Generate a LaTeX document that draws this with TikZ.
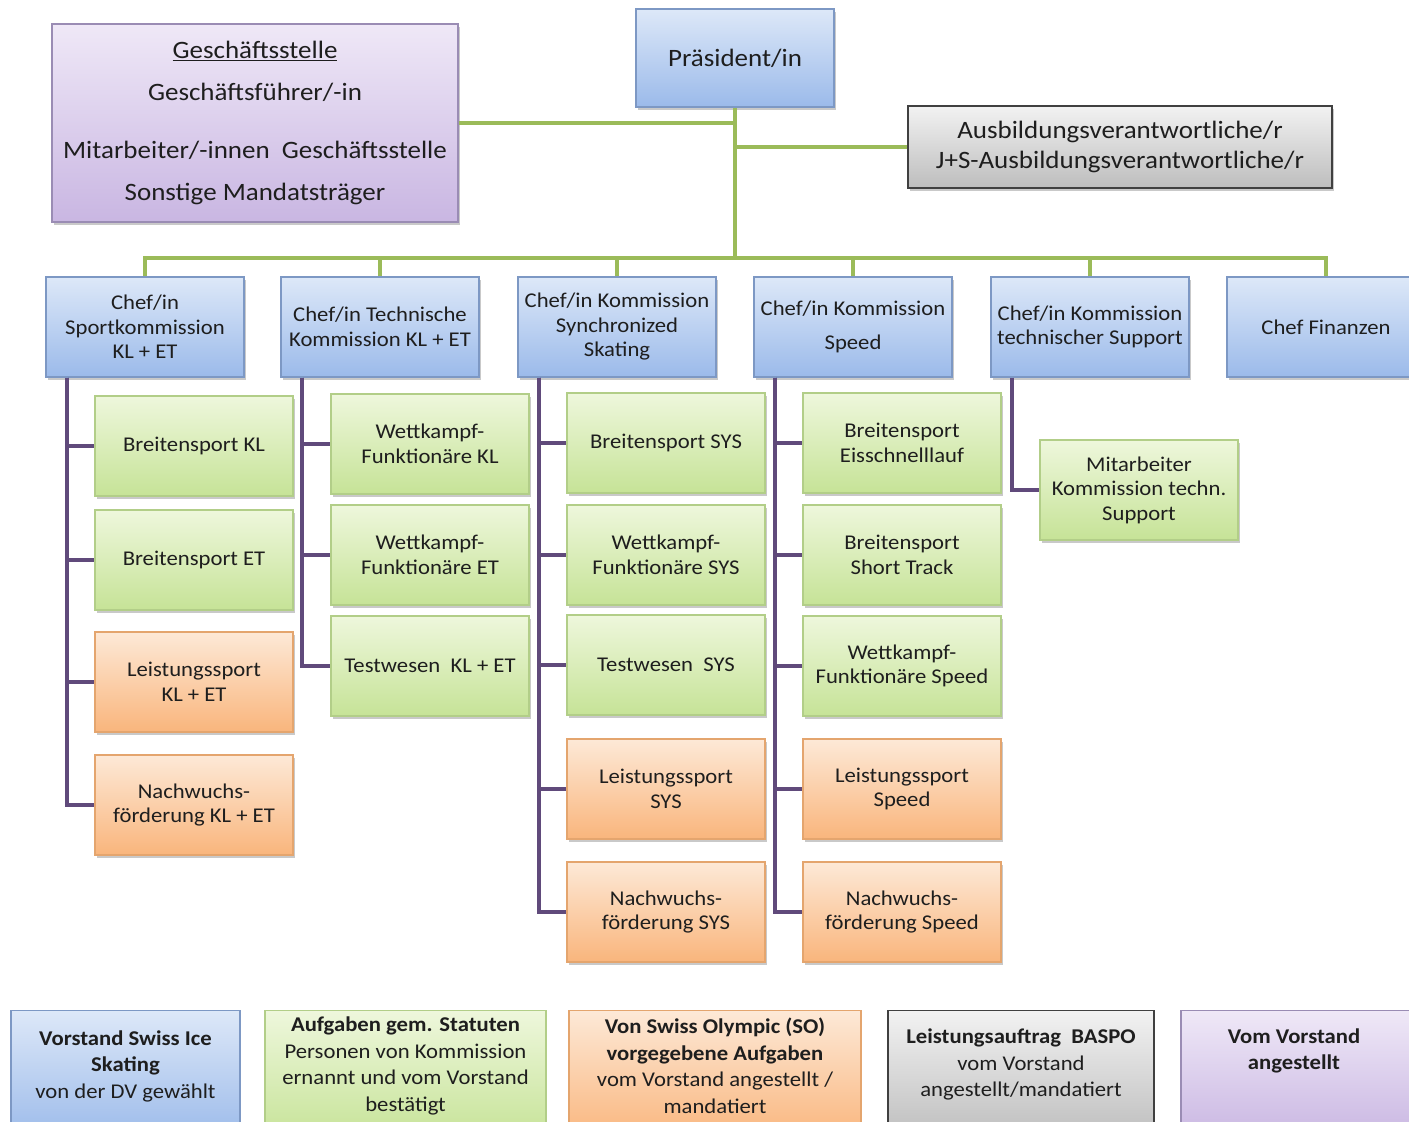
\documentclass[tikz,border=0pt]{standalone}
\usepackage{fontspec}
\setmainfont{Carlito}[FakeStretch=1.08]
\usetikzlibrary{shadows,calc}
\definecolor{blueT}{HTML}{DDE8F8}
\definecolor{blueB}{HTML}{9BBAEA}
\definecolor{blueD}{HTML}{7D98C4}
\definecolor{greenT}{HTML}{EEF7DC}
\definecolor{greenB}{HTML}{C6E397}
\definecolor{greenD}{HTML}{B2CE88}
\definecolor{orangeT}{HTML}{FDE9D7}
\definecolor{orangeB}{HTML}{F9B57C}
\definecolor{orangeD}{HTML}{E4A56E}
\definecolor{purpleT}{HTML}{EFE8F7}
\definecolor{purpleB}{HTML}{C9B6E2}
\definecolor{purpleD}{HTML}{9A8CB4}
\definecolor{greyT}{HTML}{F2F2F2}
\definecolor{greyB}{HTML}{BDBDBD}
\definecolor{greyD}{HTML}{404040}
\definecolor{gcon}{HTML}{9BBB59}
\definecolor{pcon}{HTML}{604A7B}
\definecolor{txt}{HTML}{1E1E1E}
\tikzset{
  box/.style={rectangle, line width=1.2pt, text=txt, align=center, inner sep=2pt,
    minimum width=198, minimum height=100,
    drop shadow={shadow xshift=2pt, shadow yshift=-3pt, opacity=0.35, fill=black!60},
    font=\fontsize{21}{24.5}\selectfont},
  bluebox/.style={box, draw=blueD, top color=blueT, bottom color=blueB},
  greenbox/.style={box, draw=greenD, top color=greenT, bottom color=greenB},
  orangebox/.style={box, draw=orangeD, top color=orangeT, bottom color=orangeB},
  purplebox/.style={box, draw=purpleD, top color=purpleT, bottom color=purpleB},
  greybox/.style={box, draw=greyD, top color=greyT, bottom color=greyB},
  legbox/.style={rectangle, line width=1.2pt, minimum height=130, anchor=north},
  legtext/.style={text=txt, align=center, font=\fontsize{21}{26.5}\selectfont},
  gline/.style={draw=gcon, line width=4pt},
  pline/.style={draw=pcon, line width=4pt},
}
\begin{document}
\begin{tikzpicture}[x=1pt,y=-1pt]
\path[use as bounding box, fill=white] (0,0) rectangle (1409,1122);

% top level
\node[purplebox, minimum width=406, minimum height=198, font=\fontsize{25}{30}\selectfont] (gs) at (255,123)
  {\underline{Geschäftsstelle}\\[12pt] Geschäftsführer/-in\\[28pt] Mitarbeiter/-innen\ \ Geschäftsstelle\\[12pt] Sonstige Mandatsträger};
\node[bluebox, minimum width=198, minimum height=98, font=\fontsize{25}{30}\selectfont] (pres) at (735,58) {Präsident/in};
\node[greybox, minimum width=424, minimum height=82, font=\fontsize{25}{30}\selectfont] (aus) at (1120,147)
  {Ausbildungsverantwortliche/r\\J+S-Ausbildungsverantwortliche/r};

% chefs
\node[bluebox] (c1) at (145,327) {Chef/in\\Sportkommission\\KL + ET};
\node[bluebox] (c2) at (380,327) {Chef/in Technische\\Kommission KL + ET};
\node[bluebox] (c3) at (617,327) {Chef/in Kommission\\Synchronized\\Skating};
\node[bluebox] (c4) at (853,327) {Chef/in Kommission\\[9pt]Speed};
\node[bluebox] (c5) at (1090,327) {Chef/in Kommission\\technischer Support};
\node[bluebox] (c6) at (1326,327) {Chef Finanzen};

% column 1
\node[greenbox] (k11) at (194,446) {Breitensport KL};
\node[greenbox] (k12) at (194,560) {Breitensport ET};
\node[orangebox] (k13) at (194,682) {Leistungssport\\KL + ET};
\node[orangebox] (k14) at (194,805) {Nachwuchs-\\förderung KL + ET};
% column 2
\node[greenbox] (k21) at (430,444) {Wettkampf-\\Funktionäre KL};
\node[greenbox] (k22) at (430,555) {Wettkampf-\\Funktionäre ET};
\node[greenbox] (k23) at (430,666) {Testwesen\ \ KL + ET};
% column 3
\node[greenbox] (k31) at (666,443) {Breitensport SYS};
\node[greenbox] (k32) at (666,555) {Wettkampf-\\Funktionäre SYS};
\node[greenbox] (k33) at (666,665) {Testwesen\ \ SYS};
\node[orangebox] (k34) at (666,789) {Leistungssport\\SYS};
\node[orangebox] (k35) at (666,912) {Nachwuchs-\\förderung SYS};
% column 4
\node[greenbox] (k41) at (902,443) {Breitensport\\Eisschnelllauf};
\node[greenbox] (k42) at (902,555) {Breitensport\\Short Track};
\node[greenbox] (k43) at (902,666) {Wettkampf-\\Funktionäre Speed};
\node[orangebox] (k44) at (902,789) {Leistungssport\\Speed};
\node[orangebox] (k45) at (902,912) {Nachwuchs-\\förderung Speed};
% column 5
\node[greenbox] (k51) at (1139,490) {Mitarbeiter\\Kommission techn.\\Support};

% green connectors
\coordinate (bus) at (737,258);
\draw[gline] (gs.east) -- (gs.east -| pres.south);
\draw[gline] (aus.west) -- (aus.west -| pres.south);
\draw[gline] (pres.south) -- (pres.south |- bus);
\draw[gline] (c1.north) -- (c1.north |- bus) -- (c6.north |- bus) -- (c6.north);
\foreach \c in {c2,c3,c4,c5} \draw[gline] (\c.north) -- (\c.north |- bus);

% purple connectors
\foreach \k in {k11,k12,k13,k14} \draw[pline] ($(c1.south west)+(22,0)$) |- (\k.west);
\foreach \k in {k21,k22,k23} \draw[pline] ($(c2.south west)+(22,0)$) |- (\k.west);
\foreach \k in {k31,k32,k33,k34,k35} \draw[pline] ($(c3.south west)+(22,0)$) |- (\k.west);
\foreach \k in {k41,k42,k43,k44,k45} \draw[pline] ($(c4.south west)+(22,0)$) |- (\k.west);
\draw[pline] ($(c5.south west)+(22,0)$) |- (k51.west);

% legend
\node[legbox, draw=blueD, top color=blueT, bottom color=blueB, minimum width=229] (l1) at (125.5,1010) {};
\node[legbox, draw=greenD, top color=greenT, bottom color=greenB, minimum width=281] (l2) at (405.5,1010) {};
\node[legbox, draw=orangeD, top color=orangeT, bottom color=orangeB, minimum width=292] (l3) at (715,1010) {};
\node[legbox, draw=greyD, top color=greyT, bottom color=greyB, minimum width=266] (l4) at (1021,1010) {};
\node[legbox, draw=purpleD, top color=purpleT, bottom color=purpleB, minimum width=240] (l5) at (1301,1010) {};

\node[legtext] (t1) at (125.5,1066) {\textbf{Vorstand Swiss Ice}\\\textbf{Skating}\\von der DV gewählt};
\node[legtext] (t2) at (405.5,1066) {\textbf{Aufgaben gem. Statuten}\\Personen von Kommission\\ernannt und vom Vorstand\\bestätigt};
\node[legtext] (t3) at (715,1066) {\textbf{Von Swiss Olympic (SO)}\\\textbf{vorgegebene Aufgaben}\\vom Vorstand angestellt /\\mandatiert};
\node[legtext] (t4) at (1021,1064.5) {\textbf{Leistungsauftrag\ \ BASPO}\\vom Vorstand\\angestellt/mandatiert};
\node[legtext] (t5) at (1294,1051) {\textbf{Vom Vorstand}\\\textbf{angestellt}};
\end{tikzpicture}
\end{document}
